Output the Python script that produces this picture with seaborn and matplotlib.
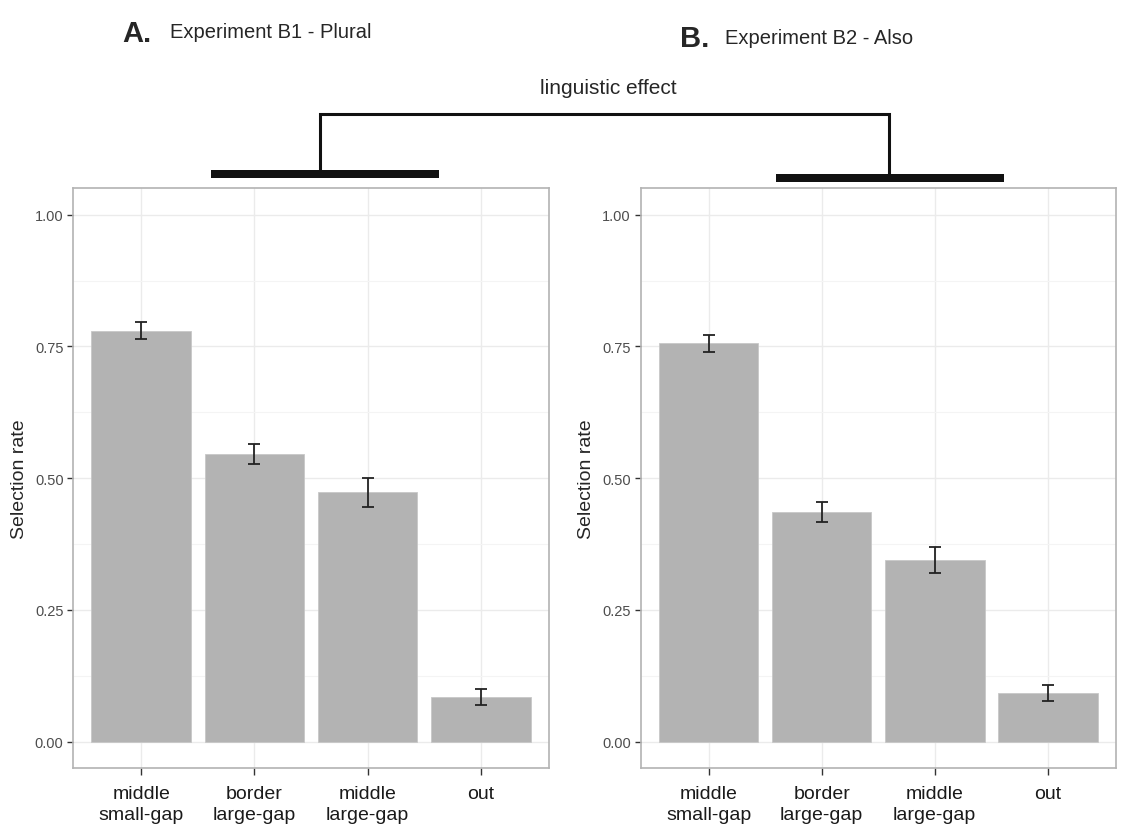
import matplotlib
matplotlib.use("Agg")
import matplotlib.pyplot as plt
from matplotlib.lines import Line2D
from matplotlib.patches import Rectangle
import seaborn as sns
import pandas as pd

# categories on the x axis
conditions = ["middle\nsmall-gap", "border\nlarge-gap", "middle\nlarge-gap", "out"]

# Experiment B1 - Plural
plural_rate = [0.780, 0.546, 0.473, 0.085]
plural_err = [0.016, 0.019, 0.027, 0.015]

# Experiment B2 - Also
also_rate = [0.756, 0.435, 0.345, 0.093]
also_err = [0.016, 0.019, 0.025, 0.015]

sns.set_style("white")
plt.rcParams["font.family"] = ["Liberation Sans", "DejaVu Sans"]

W, H = 1121, 829
fig = plt.figure(figsize=(W / 100, H / 100), dpi=100)


def px_box(x0, y0, x1, y1):
    # pixel box (top-left origin) -> figure fraction [left, bottom, width, height]
    return [x0 / W, 1 - y1 / H, (x1 - x0) / W, (y1 - y0) / H]


ax_a = fig.add_axes(px_box(73.3, 189.3, 548.7, 769))
ax_b = fig.add_axes(px_box(640.7, 189.3, 1115.7, 769))


def draw_panel(ax, rates, errs):
    df = pd.DataFrame({"condition": conditions, "rate": rates})
    sns.barplot(data=df, x="condition", y="rate", color="#b3b3b3",
                saturation=1, width=0.88, errorbar=None, ax=ax,
                edgecolor="#c8c8c8", linewidth=0.6, zorder=2)
    ax.errorbar(range(len(conditions)), rates, yerr=errs, fmt="none",
                ecolor="#222222", elinewidth=1.3, capsize=4, capthick=1.3,
                zorder=3)
    ax.set_xlim(-0.6, 3.6)
    ax.set_ylim(-0.05, 1.05)
    ax.set_yticks([0, 0.25, 0.5, 0.75, 1.0])
    ax.set_yticklabels(["0.00", "0.25", "0.50", "0.75", "1.00"])
    ax.set_yticks([0.125, 0.375, 0.625, 0.875], minor=True)
    ax.grid(True, which="major", color="#ebebeb", linewidth=1.0, zorder=0)
    ax.grid(True, which="minor", axis="y", color="#f4f4f4", linewidth=0.8, zorder=0)
    ax.set_axisbelow(True)
    ax.tick_params(axis="y", which="major", length=4, width=1, color="#333333",
                   labelsize=10.5, labelcolor="#4d4d4d", left=True, pad=3)
    ax.tick_params(axis="y", which="minor", length=0)
    ax.tick_params(axis="x", length=5, width=1, color="#333333",
                   labelsize=14, labelcolor="#1a1a1a", bottom=True, pad=7)
    for lbl in ax.get_xticklabels():
        lbl.set_linespacing(1.3)
    ax.set_xlabel("")
    ax.set_ylabel("Selection rate", fontsize=14, labelpad=5)
    for s in ax.spines.values():
        s.set_color("#b3b3b3")
        s.set_linewidth(1.2)


draw_panel(ax_a, plural_rate, plural_err)
draw_panel(ax_b, also_rate, also_err)

# panel titles
fig.text(122 / W, 1 - 34 / H, "A.", fontsize=21, fontweight="bold", va="center")
fig.text(170 / W, 1 - 33 / H, "Experiment B1 - Plural", fontsize=14.5, va="center")
fig.text(680 / W, 1 - 39 / H, "B.", fontsize=21, fontweight="bold", va="center")
fig.text(725 / W, 1 - 38 / H, "Experiment B2 - Also", fontsize=14.5, va="center")

# linguistic effect bracket
fig.text(608 / W, 1 - 88 / H, "linguistic effect", fontsize=15, ha="center",
         va="center")
bracket_x = [319.7, 319.7, 889, 889]
bracket_y = [172, 114.5, 114.5, 176]
fig.add_artist(Line2D([x / W for x in bracket_x], [1 - y / H for y in bracket_y],
                      color="#111111", linewidth=2.2, solid_joinstyle="miter",
                      transform=fig.transFigure))
for x0, y0, x1, y1 in [(211, 171, 439, 179), (775.7, 175, 1004, 183)]:
    l, b, w, h = px_box(x0, y0, x1, y1)
    fig.add_artist(Rectangle((l, b), w, h, facecolor="#111111", edgecolor="none",
                             transform=fig.transFigure))

fig.savefig("out.png", dpi=100)
